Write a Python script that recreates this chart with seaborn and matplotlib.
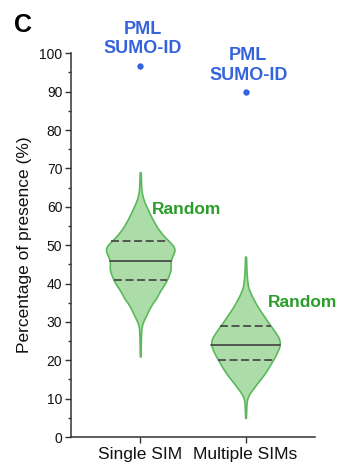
import numpy as np
import pandas as pd
import matplotlib
matplotlib.use("Agg")
import matplotlib.pyplot as plt
from matplotlib.ticker import MultipleLocator
import seaborn as sns

# ---------------- data ----------------
categories = ["Single SIM", "Multiple SIMs"]

# random-sampling distributions: percentage value -> number of draws
single_pct = [21, 22, 23, 24, 25, 26, 27, 28, 29,
              30, 31, 32, 33, 34, 35, 36, 37, 38, 39,
              40, 41, 42, 43, 44, 45, 46, 47, 48, 49,
              50, 51, 52, 53, 54, 55, 56, 57, 58, 59,
              60, 61, 62, 63, 64, 65, 66, 67, 68, 69]
single_counts = [4, 4, 5, 5, 6, 7, 8, 10, 15,
                 25, 45, 65, 80, 100, 120, 155, 170, 190, 215,
                 240, 260, 275, 290, 300, 290, 295, 305, 330, 340,
                 320, 280, 240, 210, 180, 155, 135, 115, 95, 80,
                 60, 45, 30, 20, 13, 10, 8, 7, 6, 5]

multiple_pct = [5, 6, 7, 8, 9,
                10, 11, 12, 13, 14, 15, 16, 17, 18, 19,
                20, 21, 22, 23, 24, 25, 26, 27, 28, 29,
                30, 31, 32, 33, 34, 35, 36, 37, 38, 39,
                40, 41, 42, 43, 44, 45, 46, 47]
multiple_counts = [4, 5, 6, 8, 10,
                   15, 30, 55, 85, 110, 140, 170, 195, 220, 240,
                   260, 285, 300, 320, 330, 330, 320, 290, 270, 240,
                   215, 190, 165, 140, 115, 95, 75, 55, 40, 25,
                   20, 15, 12, 10, 8, 7, 6, 5]

# observed PML SUMO-ID values
pml_values = [96.8, 89.9]
pml_label = "PML\nSUMO-ID"
random_label = "Random"

y_ticks = [0, 10, 20, 30, 40, 50, 60, 70, 80, 90, 100]

# ---------------- styling ----------------
fill_green = "#acdca8"
edge_green = "#5cb85c"
text_green = "#2a9d2a"
blue = "#3563dc"
inner_gray = "#4a4a4a"
axis_gray = "#333333"

sns.set_style("ticks")
plt.rcParams["font.family"] = ["Liberation Sans", "DejaVu Sans"]

df = pd.DataFrame({
    "group": [categories[0]] * int(np.sum(single_counts))
             + [categories[1]] * int(np.sum(multiple_counts)),
    "value": np.concatenate([np.repeat(single_pct, single_counts),
                             np.repeat(multiple_pct, multiple_counts)]).astype(float),
})

fig = plt.figure(figsize=(3.41, 4.67), dpi=100)
ax = fig.add_axes([0.2073, 0.0642, 0.7166, 0.8217])

sns.violinplot(data=df, x="group", y="value", order=categories,
               inner="quart", cut=0, density_norm="width", width=0.65,
               bw_adjust=0.6, color=fill_green, linecolor=edge_green,
               linewidth=1.2, saturation=1, ax=ax)

# inner quartile lines: dashed quartiles, solid median
for i, ln in enumerate(ax.lines):
    ln.set_color(inner_gray)
    ln.set_linewidth(1.3)
    if i % 3 == 1:
        ln.set_linestyle("-")
    else:
        ln.set_linestyle((0, (4.4, 2.0)))

sns.stripplot(x=categories, y=pml_values, jitter=False, color=blue,
              size=4.6, ax=ax, zorder=5)

for i, v in enumerate(pml_values):
    ax.annotate(pml_label, xy=(i, v), xytext=(2, 6.0),
                textcoords="offset points", ha="center", va="bottom",
                color=blue, fontsize=13, fontweight="bold",
                linespacing=1.2, annotation_clip=False)

ax.text(0.111, 58.2, random_label, color=text_green, fontsize=12.5,
        fontweight="bold", ha="left", va="baseline")
ax.text(1.214, 33.8, random_label, color=text_green, fontsize=12.5,
        fontweight="bold", ha="left", va="baseline")

ax.set_xlim(-0.66, 1.66)
ax.set_ylim(0, 100)
ax.set_yticks(y_ticks)
ax.yaxis.set_minor_locator(MultipleLocator(5))
ax.set_xlabel("")
ax.set_ylabel("Percentage of presence (%)", fontsize=12.5, labelpad=5,
              color="#111111")
ax.tick_params(axis="y", which="major", length=4.5, width=1.0,
               labelsize=10, colors=axis_gray, labelcolor="#111111", pad=1.5)
ax.tick_params(axis="y", which="minor", length=2.5, width=1.0, colors=axis_gray)
ax.tick_params(axis="x", which="major", length=4.5, width=1.0,
               labelsize=12.5, colors=axis_gray, labelcolor="#111111", pad=3)
sns.despine(ax=ax)
for s in ["left", "bottom"]:
    ax.spines[s].set_color(axis_gray)
    ax.spines[s].set_linewidth(1.1)

fig.text(0.04, 0.931, "C", fontsize=18, fontweight="bold", color="black",
         ha="left", va="baseline")

fig.savefig("out.png", dpi=100)
